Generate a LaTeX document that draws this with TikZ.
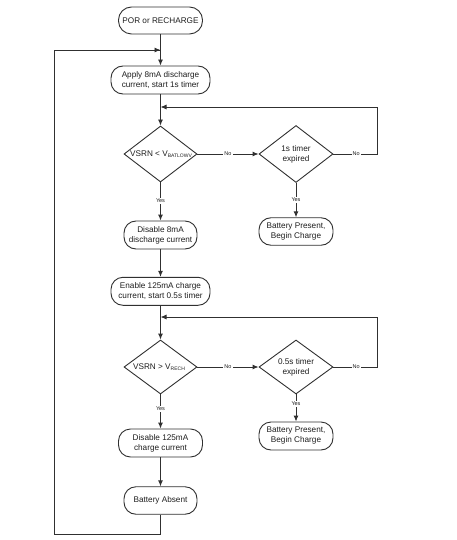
\documentclass[tikz,border=0pt]{standalone}
\usepackage{fontspec}
\setmainfont{Liberation Sans}
\usetikzlibrary{shapes.geometric,arrows.meta}
\definecolor{ln}{HTML}{303030}
\definecolor{tx}{HTML}{1E1E1E}
\newcommand{\subs}[1]{\raisebox{-1.3pt}{\fontsize{5pt}{6pt}\selectfont #1}}
\begin{document}
\begin{tikzpicture}[x=1pt,y=-1pt,
  box/.style={draw=ln, line width=0.9pt, rounded corners=12pt, minimum width=#1, minimum height=28pt, inner sep=0pt, align=center, text=tx, font=\fontsize{8.2pt}{10pt}\selectfont},
  dia/.style={draw=ln, line width=0.9pt, diamond, minimum width=74pt, minimum height=#1, inner sep=0pt},
  dtext/.style={align=center, text=tx, font=\fontsize{8.2pt}{10pt}\selectfont, inner sep=0pt},
  conn/.style={draw=ln, line width=0.9pt, -{Latex[length=6pt,width=5pt]}},
  plain/.style={draw=ln, line width=0.9pt},
  lbl/.style={fill=white, inner sep=1pt, text=tx, font=\fontsize{5.5pt}{6pt}\selectfont}]
\useasboundingbox (0,0) rectangle (456,540);

% nodes
\node[box=84pt, minimum height=27pt, rounded corners=13pt] (por) at (160.5,20.5) {POR or RECHARGE};
\node[box=99pt] (apply) at (160.5,80) {Apply 8mA discharge\\current, start 1s timer};
\node[dia=56pt, minimum width=73pt] (d1) at (160.5,154) {};
\node[dtext] (d1t) at (161,154) {VSRN < V\subs{BATLOWV}};
\node[dia=57pt] (d2) at (296,154) {};
\node[dtext] (d2t) at (296,154) {1s timer\\expired};
\node[box=74pt, minimum height=27.5pt] (bp1) at (296,231.5) {Battery Present,\\Begin Charge};
\node[box=73pt] (dis8) at (160.5,235) {Disable 8mA\\discharge current};
\node[box=99pt] (en) at (160.5,291.3) {Enable 125mA charge\\current, start 0.5s timer};
\node[dia=54pt, minimum width=73pt] (d3) at (160.5,367) {};
\node[dtext] (d3t) at (159,367) {VSRN > V\subs{RECH}};
\node[dia=54pt] (d4) at (296,367) {};
\node[dtext] (d4t) at (296,367) {0.5s timer\\expired};
\node[box=74pt] (bp2) at (296,436) {Battery Present,\\Begin Charge};
\node[box=84pt] (dis125) at (160.5,443) {Disable 125mA\\charge current};
\node[box=73pt, minimum height=27.5pt] (absent) at (160.5,500.5) {Battery Absent};

% helper coordinates
\coordinate (loopin) at (160.5,50);
\coordinate (fb1) at (160.5,107);
\coordinate (fb2) at (160.5,317);
\coordinate (r1) at (377,154);
\coordinate (r1t) at (377,107);
\coordinate (r2) at (377,367);
\coordinate (r2t) at (377,317);
\coordinate (bl) at (54,534);
\coordinate (tl) at (54,50);

% connectors
\draw[conn] (por.south) -- (apply.north);
\draw[plain] (absent.south) -- (absent.south |- bl) -- (bl) -- (tl) -- (loopin);
\draw[conn] (tl) -- (loopin);
\draw[conn] (apply.south) -- (d1.north);
\draw[conn] (d1.east) -- node[lbl] (n1) {No} (d2.west);
\draw[plain] (d2.east) -- node[lbl, pos=0.52] (n2) {No} (r1) -- (r1t);
\draw[conn] (r1t) -- (fb1);
\draw[conn] (d1.south) -- node[lbl, pos=0.48] (y1) {Yes} (dis8.north);
\draw[conn] (d2.south) -- node[lbl, pos=0.5] (y2) {Yes} (bp1.north);
\draw[conn] (dis8.south) -- (en.north);
\draw[conn] (en.south) -- (d3.north);
\draw[conn] (d3.east) -- node[lbl] (n3) {No} (d4.west);
\draw[plain] (d4.east) -- node[lbl, pos=0.52] (n4) {No} (r2) -- (r2t);
\draw[conn] (r2t) -- (fb2);
\draw[conn] (d3.south) -- node[lbl, pos=0.42] (y3) {Yes} (dis125.north);
\draw[conn] (d4.south) -- node[lbl, pos=0.35] (y4) {Yes} (bp2.north);
\draw[conn] (dis125.south) -- (absent.north);
\end{tikzpicture}
\end{document}
